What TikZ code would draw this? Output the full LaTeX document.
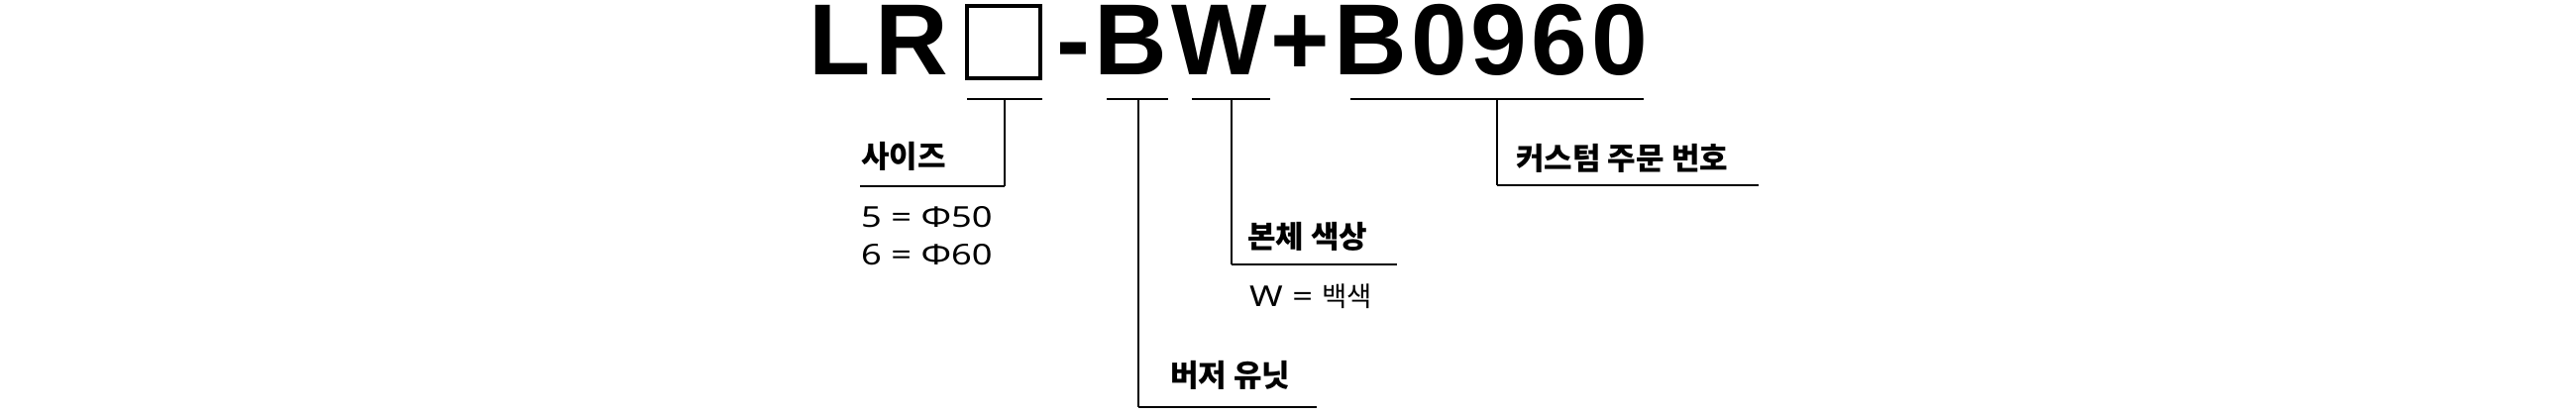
\documentclass[tikz,border=0pt]{standalone}
\usepackage{fontspec}
\newfontfamily\titlefont[LetterSpace=4]{Liberation Sans}
\newfontfamily\krfont{Noto Sans CJK KR}
\newfontfamily\valfont[FakeStretch=1.25]{Noto Sans}
\newcommand\hangulpart[1]{{\krfont\fontsize{27.5}{27.5}\selectfont #1}}
\tikzset{
  codetext/.style={inner sep=0pt, font=\titlefont\bfseries\fontsize{102}{102}\selectfont},
  partlabel/.style={inner sep=0pt, anchor=south west, font=\krfont\bfseries\fontsize{31}{31}\selectfont},
  partvalue/.style={inner sep=0pt, anchor=base west, font=\valfont\fontsize{29}{29}\selectfont},
  underbar/.style={line width=2.2pt},
  stemline/.style={line width=1.5pt}
}

\begin{document}
\begin{tikzpicture}[x=1pt,y=-1pt]
\useasboundingbox (0,0) rectangle (2600,420);

\draw (816.6,76) node (lr) [codetext, anchor=base west] {LR};
\draw (1013,42.5) node (blank) [draw, line width=4pt, minimum width=74pt, minimum height=73pt, inner sep=0pt] {};
\draw (1066.4,76) node (rest) [codetext, anchor=base west] {-BW+B0960};

\draw (869,173) node (size) [partlabel] {사이즈};
\draw (869,229) node (size5) [partvalue] {5 = Φ50};
\draw (869,267) node (size6) [partvalue] {6 = Φ60};
\coordinate (a1) at (976,100);
\coordinate (a2) at (1052,100);
\coordinate (a3) at (1014,100);
\coordinate (a4) at (1014,188);
\coordinate (a5) at (868,188);
\draw[underbar] (a1) -- (a2);
\draw[stemline] (a3) -- (a4);
\draw[underbar] (a4) -- (a5);

\draw (1181,394) node (buzzer) [partlabel] {버저 유닛};
\coordinate (b1) at (1117,100);
\coordinate (b2) at (1179,100);
\coordinate (b3) at (1149,100);
\coordinate (b4) at (1149,411);
\coordinate (b5) at (1329,411);
\draw[underbar] (b1) -- (b2);
\draw[stemline] (b3) -- (b4);
\draw[underbar] (b4) -- (b5);

\draw (1259,254) node (color) [partlabel] {본체 색상};
\draw (1261,309) node (colorw) [partvalue] {W = \hangulpart{백색}};
\coordinate (c1) at (1203,100);
\coordinate (c2) at (1282,100);
\coordinate (c3) at (1243,100);
\coordinate (c4) at (1243,267);
\coordinate (c5) at (1410,267);
\draw[underbar] (c1) -- (c2);
\draw[stemline] (c3) -- (c4);
\draw[underbar] (c4) -- (c5);

\draw (1530,175) node (custom) [partlabel] {커스텀 주문 번호};
\coordinate (d1) at (1363,100);
\coordinate (d2) at (1659,100);
\coordinate (d3) at (1511,100);
\coordinate (d4) at (1511,187);
\coordinate (d5) at (1775,187);
\draw[underbar] (d1) -- (d2);
\draw[stemline] (d3) -- (d4);
\draw[underbar] (d4) -- (d5);
\end{tikzpicture}
\end{document}
